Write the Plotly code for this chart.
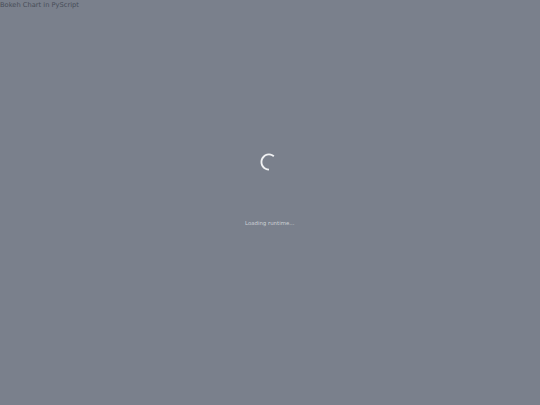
"""
Loading screen of the Bokeh chart page
"""
import plotly.graph_objs as go

BG_COLOR = "#7a808c"
TITLE_COLOR = "#474d58"
LOADING_COLOR = "#cdd0d6"

page_title = "Bokeh Chart in PyScript"
loading_label = "Loading runtime..."

# spinner arc, as shares of the ring
spinner_parts = ["arc", "gap"]
spinner_shares = [61, 39]
spinner_colors = ["#f0f1f3", "rgba(0,0,0,0)"]

fig = go.Figure(data=[
    go.Pie(
        labels=spinner_parts,
        values=spinner_shares,
        hole=0.78,
        sort=False,
        direction="clockwise",
        rotation=180,
        textinfo="none",
        hoverinfo="skip",
        showlegend=False,
        marker=dict(colors=spinner_colors, line=dict(width=0)),
        domain=dict(x=[260.5 / 540, 277.5 / 540], y=[1 - 170.5 / 405, 1 - 153.5 / 405]),
    )
])

fig.add_annotation(text=page_title, x=-1 / 540, y=1, xref="paper", yref="paper",
                   xanchor="left", yanchor="top", showarrow=False, borderpad=0,
                   font=dict(family="DejaVu Sans", size=6.7, color=TITLE_COLOR))
fig.add_annotation(text=loading_label, x=270 / 540, y=1 - 223.5 / 405, xref="paper", yref="paper",
                   xanchor="center", yanchor="middle", showarrow=False, borderpad=0,
                   font=dict(family="DejaVu Sans", size=5.4, color=LOADING_COLOR))

fig.update_layout(
    width=540,
    height=405,
    margin=dict(l=0, r=0, t=0, b=0),
    paper_bgcolor=BG_COLOR,
    plot_bgcolor=BG_COLOR,
    showlegend=False,
)

fig.write_html("out.html", config={"displayModeBar": False},
               post_script="document.body.style.margin='0';"
                           f"document.body.style.background='{BG_COLOR}';")
